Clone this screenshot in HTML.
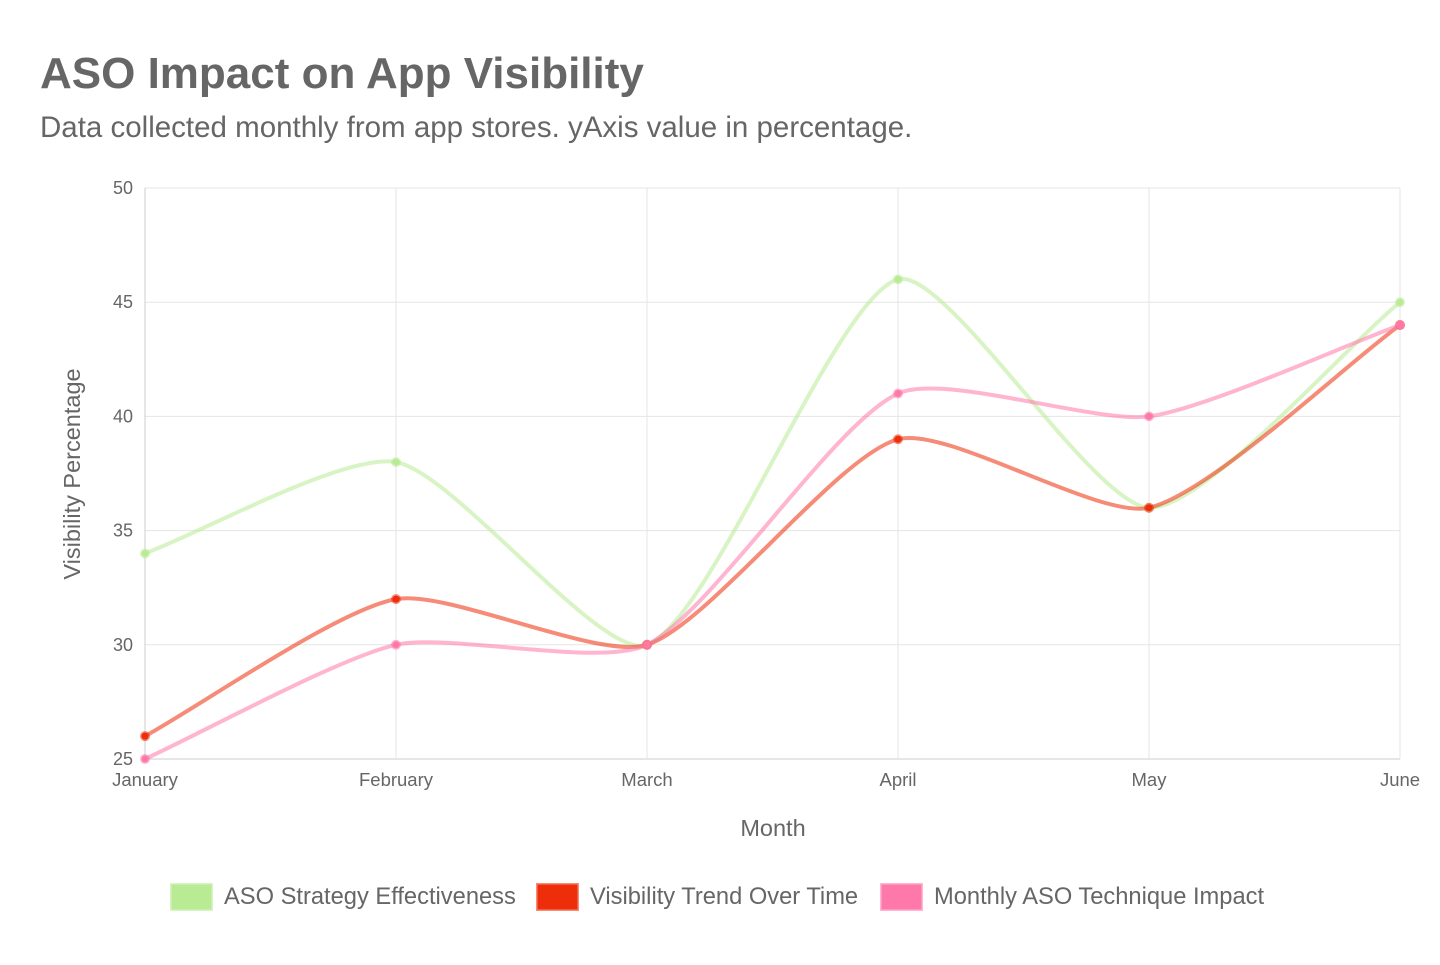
<!DOCTYPE html>
<html><head><meta charset="utf-8"><style>
body{margin:0;background:#fff;width:1440px;height:960px;overflow:hidden;font-family:"Liberation Sans",sans-serif;}
</style></head><body>
<svg width="1440" height="960" xmlns="http://www.w3.org/2000/svg" font-family="Liberation Sans, sans-serif">
<text x="40" y="88" font-size="44" font-weight="bold" fill="#666">ASO Impact on App Visibility</text>
<text x="40" y="137" font-size="29.5" fill="#666">Data collected monthly from app stores. yAxis value in percentage.</text>
<g id="grid"></g><g id="series"></g><g id="legend"></g>
<text x="773" y="836" font-size="23.5" fill="#666" text-anchor="middle">Month</text>
<text transform="translate(80,474) rotate(-90)" font-size="23.5" fill="#666" text-anchor="middle">Visibility Percentage</text>
</svg>
<script>
const categories=["January","February","March","April","May","June"];
const yTicks=[25,30,35,40,45,50];
const seriesNames=["ASO Strategy Effectiveness","Visibility Trend Over Time","Monthly ASO Technique Impact"];
const greenValues=[34,38,30,46,36,45];
const redValues=[26,32,30,39,36,44];
const pinkValues=[25,30,30,41,40,44];
const NS="http://www.w3.org/2000/svg";
const L=145,R=1400,T=188,B=759,yMin=25,yMax=50;
const xs=i=>L+(R-L)*i/(categories.length-1);
const ys=v=>B-(v-yMin)/(yMax-yMin)*(B-T);
function mk(tag,attrs,parent){const e=document.createElementNS(NS,tag);for(const k in attrs)e.setAttribute(k,attrs[k]);parent.appendChild(e);return e;}
const grid=document.getElementById('grid');
yTicks.forEach(t=>{
  const l=mk('line',{x1:L,x2:R,y1:ys(t),y2:ys(t),stroke:t===yMin?'#ccc':'#e5e5e5','stroke-width':1},grid);
  
  
  const tx=mk('text',{x:L-12,y:ys(t)+6,'font-size':18,fill:'#666','text-anchor':'end'},grid);
  tx.textContent=t;
  
  
});
categories.forEach((c,i)=>{
  const l=mk('line',{x1:xs(i),x2:xs(i),y1:T,y2:B,stroke:i===0?'#ccc':'#e5e5e5','stroke-width':1},grid);
  
  
  const tx=mk('text',{x:xs(i),y:786,'font-size':18.5,fill:'#666','text-anchor':'middle'},grid);
  tx.textContent=c;
  
  
});
function pathFor(vals){
  const p=vals.map((v,i)=>[xs(i),ys(v)]);const t=0.22;const cps=[];
  for(let i=0;i<p.length;i++){
    const pr=p[i-1]||p[i],cu=p[i],nx=p[i+1]||p[i];
    const d01=Math.hypot(cu[0]-pr[0],cu[1]-pr[1]),d12=Math.hypot(nx[0]-cu[0],nx[1]-cu[1]);
    let s01=d01/(d01+d12),s12=d12/(d01+d12);if(isNaN(s01))s01=0;if(isNaN(s12))s12=0;
    const fa=t*s01,fb=t*s12;
    cps.push({a:[cu[0]-fa*(nx[0]-pr[0]),cu[1]-fa*(nx[1]-pr[1])],b:[cu[0]+fb*(nx[0]-pr[0]),cu[1]+fb*(nx[1]-pr[1])]});
  }
  let d='M'+p[0][0]+','+p[0][1];
  for(let i=1;i<p.length;i++)d+=' C'+cps[i-1].b.join(',')+' '+cps[i].a.join(',')+' '+p[i].join(',');
  return d;
}
const styles=[{line:'rgba(184,235,148,0.55)',pt:'#b8eb94',name:'aso-strategy'},{line:'rgba(238,45,10,0.55)',pt:'#ee2d0a',name:'visibility-trend'},{line:'rgba(255,120,170,0.55)',pt:'#ff78aa',name:'technique-impact'}];
const all=[greenValues,redValues,pinkValues];
const sg=document.getElementById('series');
all.forEach((vals,k)=>{
  const g=mk('g',{},sg);
  
  
  const pa=mk('path',{d:pathFor(vals),fill:'none',stroke:styles[k].line,'stroke-width':4},g);
  
  
  vals.forEach((v,i)=>{
    const c=mk('circle',{cx:xs(i),cy:ys(v),r:3.5,fill:styles[k].pt,stroke:styles[k].line,'stroke-width':3},g);
    
    
  });
});
const lg=document.getElementById('legend');
const lx=[170,536,880];
seriesNames.forEach((n,k)=>{
  const g=mk('g',{},lg);
  
  
  mk('rect',{x:lx[k]+1.5,y:884.5,width:40,height:25,fill:styles[k].pt,stroke:styles[k].line,'stroke-width':3},g);
  const tx=mk('text',{x:lx[k]+54,y:904,'font-size':23.7,fill:'#666'},g);
  tx.textContent=n;
});
</script>
</body></html>
